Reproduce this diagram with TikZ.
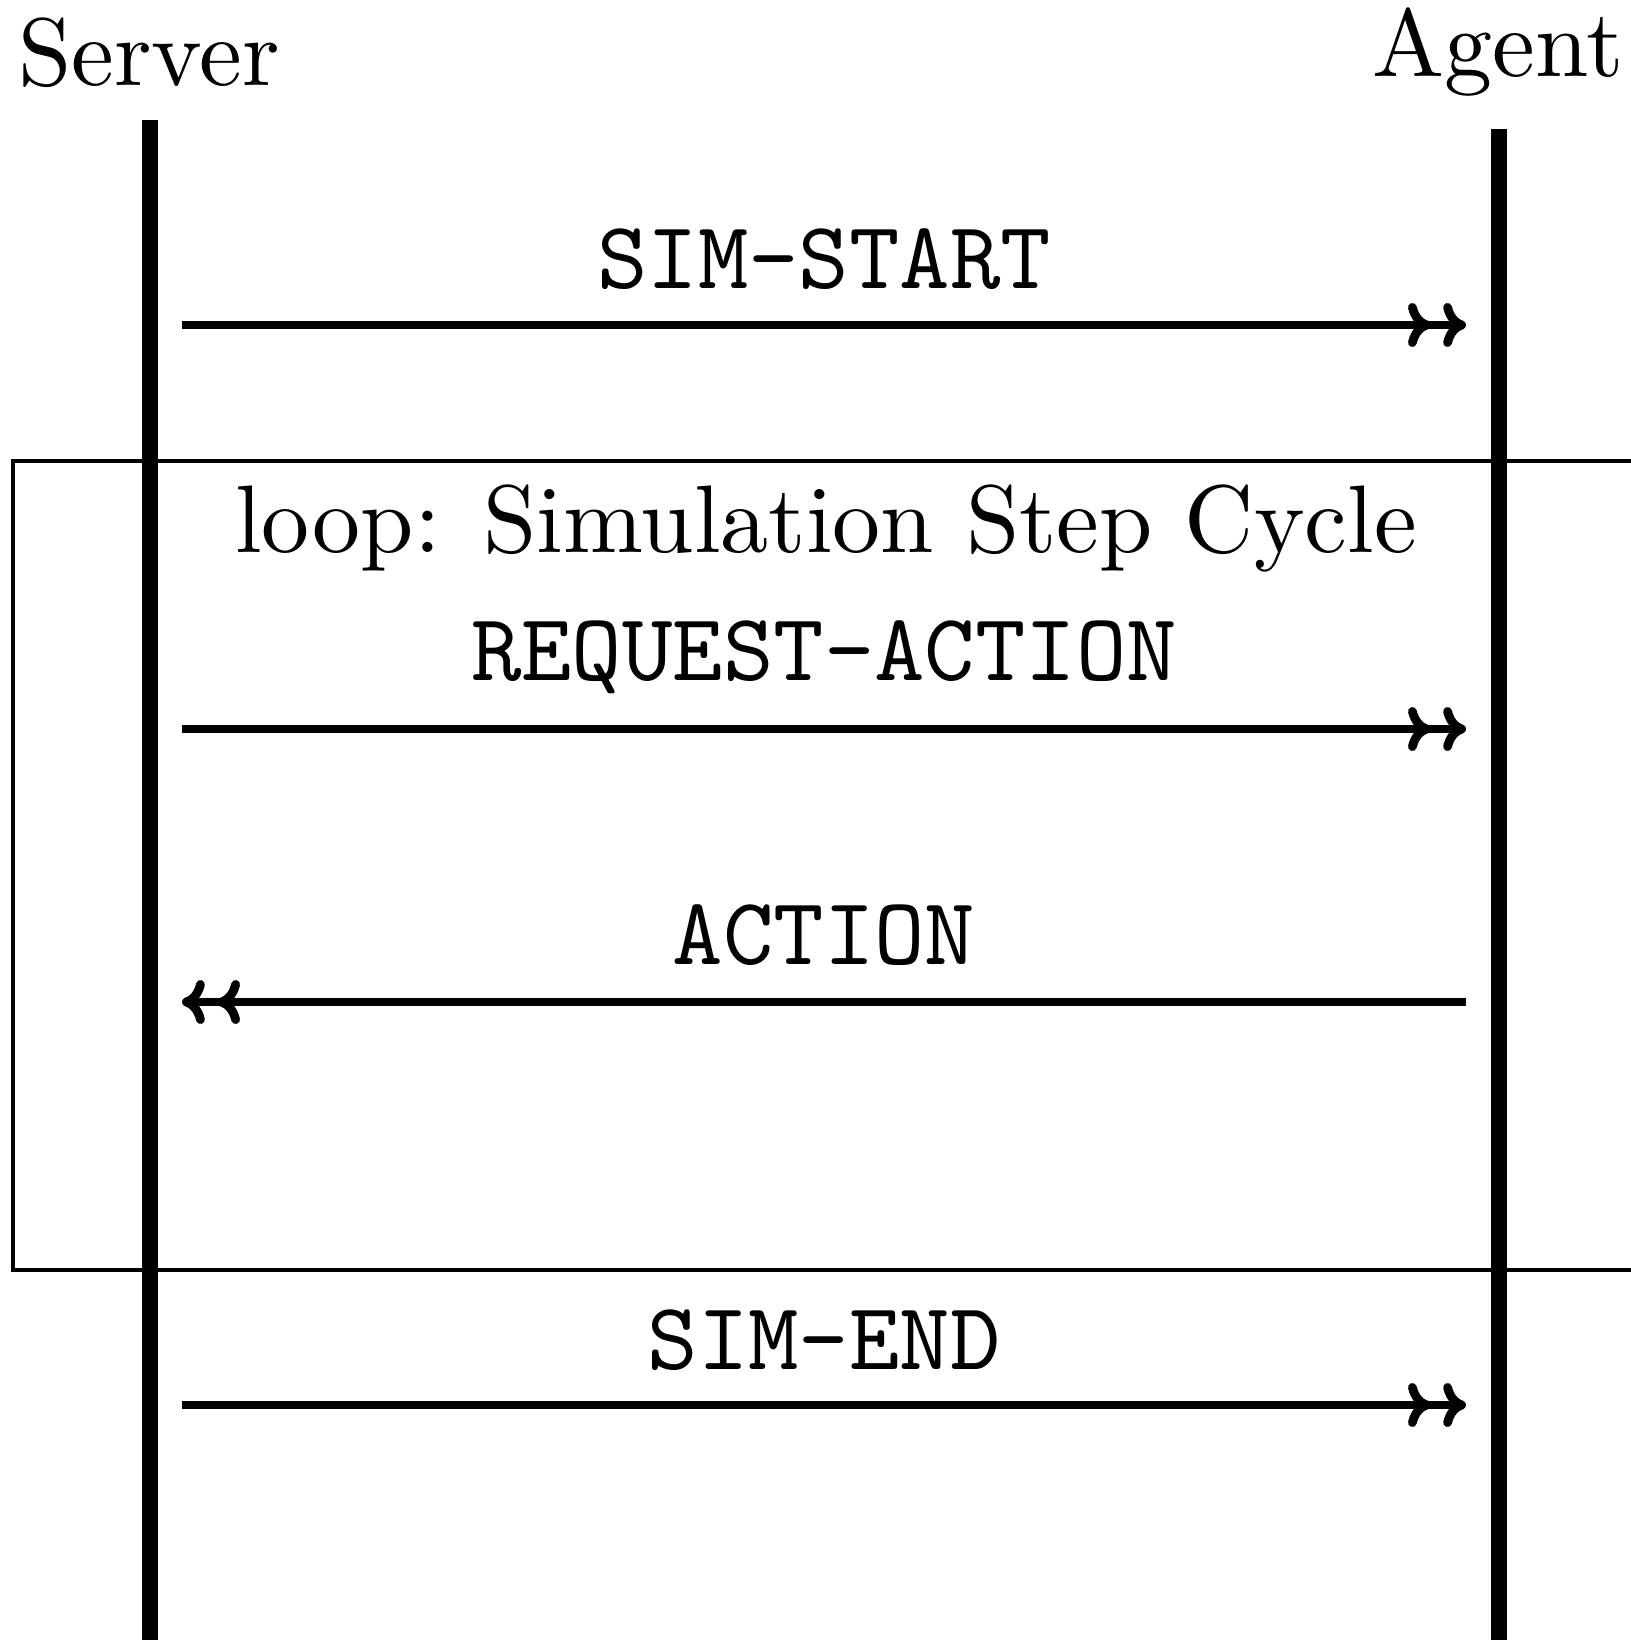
\documentclass[tikz,border=0pt]{standalone}
\usepackage{fontspec}
\setmainfont{lmroman10-regular}[Extension=.otf]
\setmonofont{lmmono10-regular}[Extension=.otf]
\usetikzlibrary{arrows.meta}
\begin{document}
\begin{tikzpicture}[x=0.01cm,y=-0.01cm,
  lbl/.style={inner sep=0pt, anchor=base, font=\fontsize{27.3}{32}\selectfont},
  msglbl/.style={inner sep=0pt, anchor=base, font=\fontsize{27.3}{32}\selectfont\ttfamily},
  life/.style={line width=4.3pt},
  msg/.style={line width=2.5pt, -{Computer Modern Rightarrow[length=6.5pt,width=12.5pt,sep=3.5pt] Computer Modern Rightarrow[length=6.5pt,width=12.5pt]}},
  loopbox/.style={draw, line width=1pt}]
\useasboundingbox (0,0) rectangle (1630,1640);
% loop frame
\draw[loopbox] (13,461) rectangle (1700,1270);
\node[lbl] (loop) at (826,552) {loop: Simulation Step Cycle};
% participants
\node[lbl] (server) at (149,86) {Server};
\node[lbl] (agent) at (1498,77) {Agent};
\coordinate (s0) at (150,120);
\coordinate (s1) at (150,1650);
\coordinate (g0) at (1499,129);
\coordinate (g1) at (1499,1650);
\draw[life] (s0) -- (s1);
\draw[life] (g0) -- (g1);
% messages
\coordinate (m1s) at (182,325);  \coordinate (m1a) at (1466,325);
\coordinate (m2s) at (182,729);  \coordinate (m2a) at (1466,729);
\coordinate (m3s) at (182,1002); \coordinate (m3a) at (1466,1002);
\coordinate (m4s) at (182,1405); \coordinate (m4a) at (1466,1405);
\node[msglbl] (l1) at (824,289) {SIM-START};
\node[msglbl] (l2) at (824,680) {REQUEST-ACTION};
\node[msglbl] (l3) at (824,964) {ACTION};
\node[msglbl] (l4) at (824,1369) {SIM-END};
\draw[msg] (m1s) -- (m1a);
\draw[msg] (m2s) -- (m2a);
\draw[msg] (m3a) -- (m3s);
\draw[msg] (m4s) -- (m4a);
\end{tikzpicture}
\end{document}
